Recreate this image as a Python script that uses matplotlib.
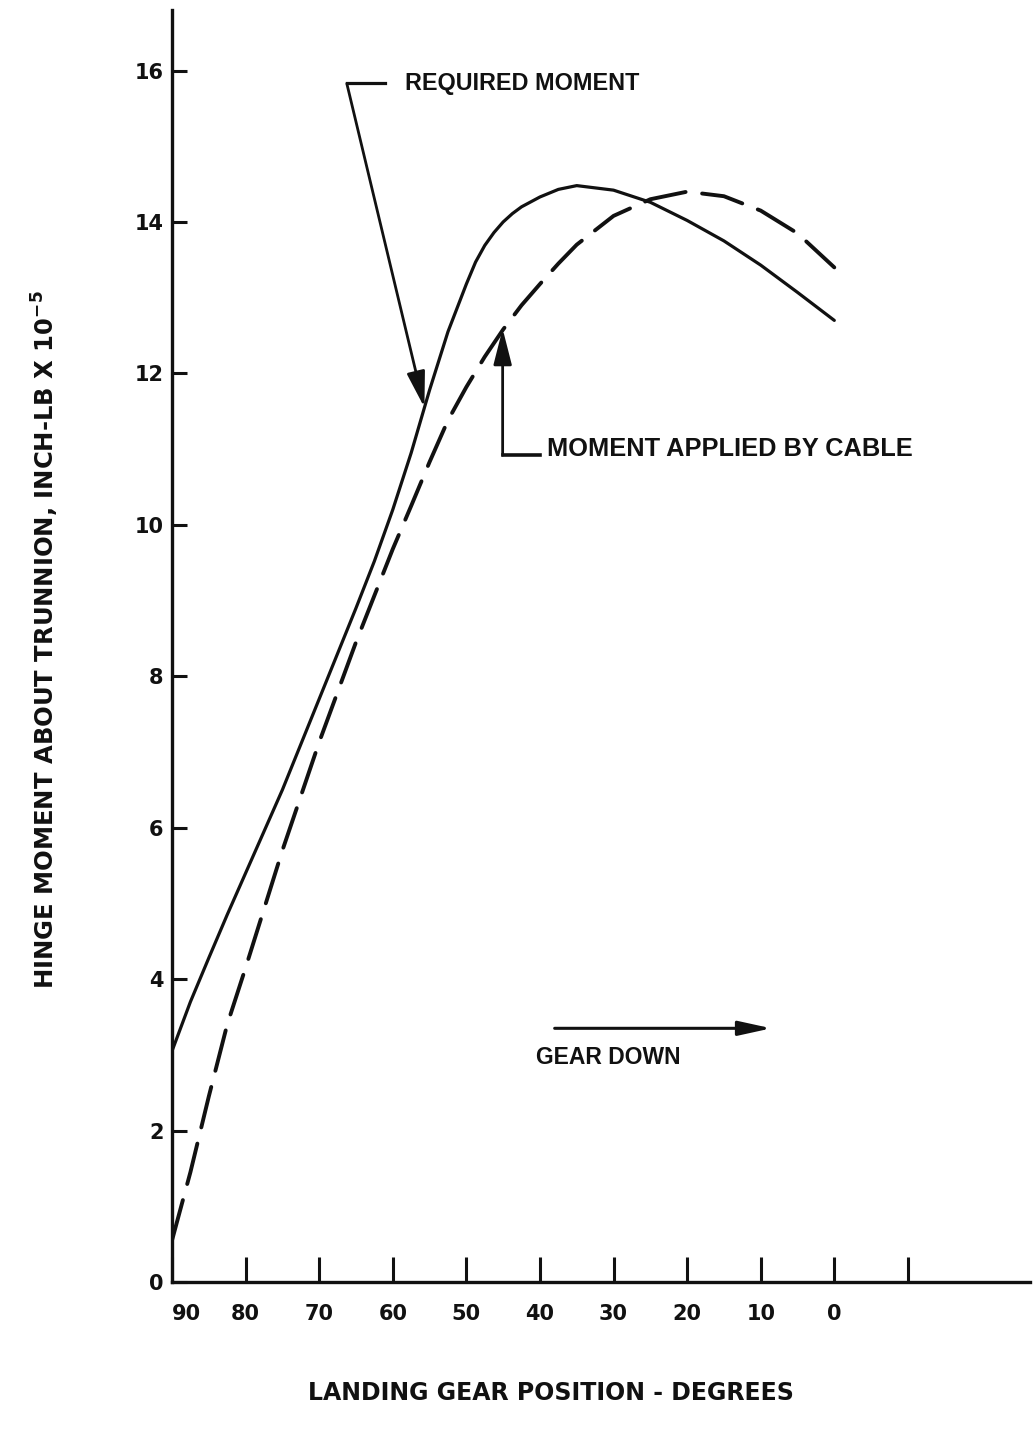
import matplotlib
matplotlib.use("Agg")
import matplotlib.pyplot as plt

# ---- data -------------------------------------------------------------
# Landing gear position (degrees) and hinge moment about trunnion (in-lb x 1e-5)
required_deg = [90, 87.5, 85, 82.5, 80, 75, 70, 65, 62.5, 60, 57.5, 55,
                52.5, 50, 48.75, 47.5, 46.25, 45, 43.75, 42.5, 40, 37.5, 35,
                30, 25, 20, 15, 10, 5, 0]
required_moment = [3.05, 3.7, 4.28, 4.85, 5.4, 6.5, 7.7, 8.9, 9.52, 10.2,
                   10.95, 11.78, 12.55, 13.18, 13.47, 13.69, 13.86, 14.0,
                   14.11, 14.2, 14.33, 14.43, 14.48, 14.42, 14.26, 14.02,
                   13.75, 13.43, 13.07, 12.7]

cable_deg = [90, 87.5, 85, 82.5, 80, 75, 70, 65, 60, 57.5, 55, 52.5, 50,
             47.5, 45, 42.5, 40, 37.5, 35, 30, 25, 20, 15, 10, 5, 0]
cable_moment = [0.55, 1.45, 2.45, 3.4, 4.15, 5.7, 7.13, 8.45, 9.68, 10.25,
                10.83, 11.38, 11.82, 12.22, 12.58, 12.9, 13.18, 13.45, 13.7,
                14.08, 14.3, 14.4, 14.34, 14.15, 13.85, 13.4]

x_ticks = [90, 80, 70, 60, 50, 40, 30, 20, 10, 0, -10]
x_tick_labels = ["90", "80", "70", "60", "50", "40", "30", "20", "10", "0", ""]
y_ticks = [0, 2, 4, 6, 8, 10, 12, 14, 16]
y_tick_labels = ["0", "2", "4", "6", "8", "10", "12", "14", "16"]

# ---- style ------------------------------------------------------------
plt.rcParams["font.family"] = ["DejaVu Sans"]
plt.rcParams["font.weight"] = "bold"
plt.rcParams["lines.scale_dashes"] = False

ink = "#111111"
note_font = ["Liberation Sans", "DejaVu Sans"]

fig = plt.figure(figsize=(10.35, 14.43), dpi=100)
ax = fig.add_axes([0.1662, 0.1116, 0.8290, 0.8815])

ax.plot(required_deg, required_moment, color=ink, lw=2.3,
        solid_capstyle="round", solid_joinstyle="round")
ax.plot(cable_deg, cable_moment, color=ink, lw=2.8, dashes=(30, 12),
        dash_capstyle="round", dash_joinstyle="round")

ax.set_xlim(90, -26.6)
ax.set_ylim(0, 16.8)

for side in ("top", "right"):
    ax.spines[side].set_visible(False)
for side in ("left", "bottom"):
    ax.spines[side].set_linewidth(2.4)
    ax.spines[side].set_color(ink)

ax.set_xticks(x_ticks)
ax.set_xticklabels(x_tick_labels)
ax.set_yticks(y_ticks)
ax.set_yticklabels(y_tick_labels)
ax.tick_params(axis="x", direction="in", length=18, width=2.2, pad=16,
               labelsize=15, colors=ink)
ax.tick_params(axis="y", direction="in", length=11, width=2.2, pad=6,
               labelsize=15, colors=ink)
# first label sits just right of the vertical axis
ax.get_xticklabels()[0].set_horizontalalignment("left")

# ---- annotations ------------------------------------------------------
arrow_kw = dict(arrowstyle="-|>,head_length=1.1,head_width=0.28",
                color=ink, lw=2.0, shrinkA=0, shrinkB=0, mutation_scale=20)

# required moment leader
ax.plot([61.1, 66.25], [15.83, 15.83], color=ink, lw=2.3)
ax.annotate("", xy=(55.7, 11.55), xytext=(66.25, 15.83), arrowprops=arrow_kw)
ax.text(58.4, 15.83, "REQUIRED MOMENT", fontsize=16.8, ha="left",
        va="center", color=ink, family=note_font)

# cable moment leader
ax.plot([45.07, 40.05], [10.92, 10.92], color=ink, lw=2.6)
ax.annotate("", xy=(45.07, 12.59), xytext=(45.07, 10.92), arrowprops=arrow_kw)
ax.text(39.0, 11.0, "MOMENT APPLIED BY CABLE", fontsize=18.3, ha="left",
        va="center", color=ink, family=note_font)

# direction of travel
ax.annotate("", xy=(8.56, 3.35), xytext=(38.0, 3.35),
            arrowprops=dict(arrowstyle="-|>,head_length=1.0,head_width=0.22",
                            color=ink, lw=2.2, shrinkA=0, shrinkB=0,
                            mutation_scale=20))
ax.text(40.5, 2.97, "GEAR DOWN", fontsize=16.5, ha="left", va="center",
        color=ink, family=note_font)

# ---- axis titles ------------------------------------------------------
fig.text(45 / 1035, 1 - 640 / 1443,
         r"HINGE MOMENT ABOUT TRUNNION, INCH-LB X 10$^{\mathbf{-5}}$",
         rotation=90, ha="center", va="center", fontsize=17.5, color=ink)
fig.text(551 / 1035, 1 - 1393 / 1443, "LANDING GEAR POSITION - DEGREES",
         ha="center", va="center", fontsize=17, color=ink)

fig.savefig("out.png", dpi=100, facecolor="white")
